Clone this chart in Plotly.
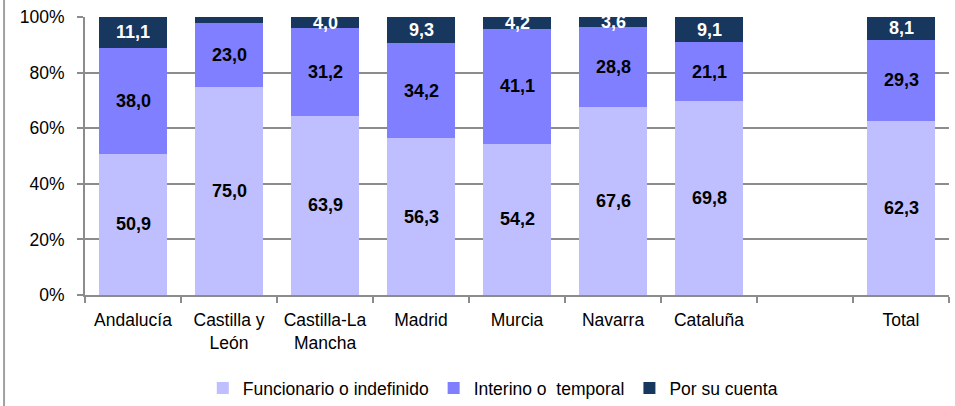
import plotly.graph_objects as go

categories = ["Andalucía", "Castilla y<br>León", "Castilla-La<br>Mancha", "Madrid", "Murcia",
              "Navarra", "Cataluña", " ", "Total"]
funcionario = [50.9, 75.0, 63.9, 56.3, 54.2, 67.6, 69.8, None, 62.3]
interino = [38.0, 23.0, 31.2, 34.2, 41.1, 28.8, 21.1, None, 29.3]
por_su_cuenta = [11.1, 2.0, 4.0, 9.3, 4.2, 3.6, 9.1, None, 8.1]
label_min = 3.0

names = ["Funcionario o indefinido", "Interino o  temporal", "Por su cuenta"]
colors = ["#BFBFFF", "#7F7FFF", "#17375E"]
text_colors = ["black", "black", "white"]
series = [funcionario, interino, por_su_cuenta]

FONT = "Liberation Sans, Arial, sans-serif"


def fmt(v):
    return f"{v:.1f}".replace(".", ",")


fig = go.Figure()
for name, vals, col in zip(names, series, colors):
    fig.add_trace(go.Bar(
        x=categories, y=vals, name=name,
        marker=dict(color=col, line=dict(width=0)),
        hoverinfo="skip",
    ))

# value labels centred in each (normalised) segment
annotations = []
for i, cat in enumerate(categories):
    vals = [s[i] for s in series]
    if any(v is None for v in vals):
        continue
    total = sum(vals)
    base = 0.0
    for v, tcol in zip(vals, text_colors):
        pct = v / total * 100
        if v >= label_min:
            annotations.append(dict(
                x=cat, y=base + pct / 2, xref="x", yref="y", text=fmt(v),
                showarrow=False,
                font=dict(family=FONT, size=18, color=tcol, weight="bold"),
            ))
        base += pct

fig.update_layout(
    autosize=False,
    barmode="stack", barnorm="percent", bargap=0.3,
    width=955, height=406,
    margin=dict(l=85, r=6, t=17, b=111),
    paper_bgcolor="white", plot_bgcolor="white",
    font=dict(family=FONT, size=17.5, color="black"),
    showlegend=True,
    legend=dict(orientation="h", x=0.472, xanchor="center",
                yref="container", y=-0.016, yanchor="bottom",
                font=dict(family=FONT, size=17.5), itemwidth=30, traceorder="normal"),
    xaxis=dict(type="category", tickson="boundaries", ticks="outside", ticklen=6,
               tickcolor="#8C8C8C", tickwidth=2, showline=True, linecolor="#8C8C8C",
               linewidth=2, showgrid=False, tickfont=dict(family=FONT, size=17.5),
               tickangle=0, ticklabelstandoff=8, automargin=False),
    yaxis=dict(range=[0, 100], tickvals=[0, 20, 40, 60, 80, 100],
               ticktext=["0%", "20%", "40%", "60%", "80%", "100%"],
               ticks="outside", ticklen=6, tickcolor="#8C8C8C", tickwidth=2,
               showline=True, linecolor="#8C8C8C", linewidth=2,
               showgrid=True, gridcolor="#8C8C8C", gridwidth=2, zeroline=False,
               tickfont=dict(family=FONT, size=17.5), ticklabelstandoff=9,
               automargin=False),
    annotations=annotations,
    shapes=[dict(type="line", xref="paper", yref="paper",
                 x0=-0.0937, x1=-0.0937, y0=-0.4, y1=1.062,
                 line=dict(color="#A0A0A0", width=2))],
)

fig.write_html("out.html",
               config={"responsive": False, "displayModeBar": False},
               post_script="document.body.style.margin='0px';document.body.style.overflow='hidden';")
